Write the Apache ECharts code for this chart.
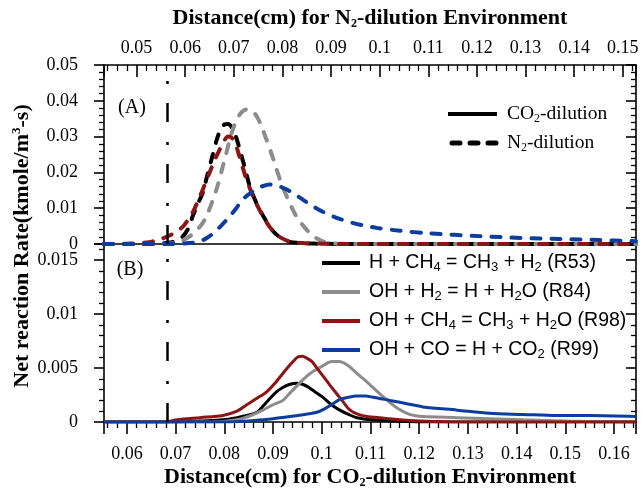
<!DOCTYPE html>
<html>
<head>
<meta charset="utf-8">
<script src="https://cdn.jsdelivr.net/npm/echarts@6/dist/echarts.min.js"></script>
<style>
  html, body { margin: 0; padding: 0; background: #fff; }
  #chart { width: 641px; height: 491px; }
</style>
</head>
<body>
<div id="chart"></div>
<script>
// ---- Net reaction rates vs. distance, (A) N2-dilution, (B) CO2-dilution ----

// Panel (A): N2-dilution, x = distance (cm) on the top axis, y = rate (kmole/m3-s)
const n2_R53 = [[0.0433,0],[0.050,0],[0.054,0.0001],[0.0568,0.0004],[0.059,0.0015],[0.0605,0.0040],[0.0615,0.0076],[0.0625,0.0110],[0.0636,0.0143],[0.0645,0.0190],[0.0654,0.0236],[0.0665,0.0292],[0.0673,0.0320],[0.0681,0.0334],[0.0688,0.0335],[0.0695,0.0327],[0.0702,0.0308],[0.0708,0.0284],[0.0715,0.0250],[0.0722,0.0216],[0.0733,0.0160],[0.0743,0.0125],[0.0753,0.0096],[0.0764,0.0070],[0.0774,0.0048],[0.0784,0.0031],[0.0794,0.0020],[0.0805,0.0012],[0.0815,0.0006],[0.0842,0.0002],[0.087,0.0001],[0.095,0],[0.1527,0]];
const n2_R84 = [[0.0433,0],[0.055,0],[0.0575,0.0002],[0.0588,0.0006],[0.061,0.0022],[0.0630,0.0048],[0.0643,0.0075],[0.0656,0.0120],[0.0666,0.0160],[0.0677,0.0215],[0.0685,0.0256],[0.0691,0.0290],[0.0698,0.0320],[0.0706,0.0348],[0.0716,0.0368],[0.0726,0.0376],[0.0737,0.0372],[0.0747,0.0357],[0.0757,0.0328],[0.0767,0.0292],[0.0778,0.0250],[0.0788,0.0208],[0.0798,0.0168],[0.0809,0.0132],[0.0819,0.0102],[0.0829,0.0076],[0.0842,0.0052],[0.0856,0.0031],[0.0870,0.0016],[0.0883,0.0007],[0.0900,0.0003],[0.0912,0.0001],[0.095,0],[0.1527,0]];
const n2_R98 = [[0.0433,0],[0.048,0.0001],[0.052,0.0004],[0.0541,0.0010],[0.057,0.0025],[0.0595,0.0048],[0.0605,0.0066],[0.0615,0.0087],[0.0630,0.0132],[0.0640,0.0165],[0.0650,0.0199],[0.0660,0.0233],[0.0671,0.0264],[0.0680,0.0288],[0.0688,0.0300],[0.0696,0.0296],[0.0703,0.0280],[0.0710,0.0252],[0.0718,0.0215],[0.0726,0.0180],[0.0733,0.0155],[0.0743,0.0122],[0.0753,0.0095],[0.0764,0.0068],[0.0774,0.0047],[0.0784,0.0031],[0.0794,0.0020],[0.0805,0.0012],[0.0815,0.0007],[0.0842,0.0003],[0.088,0.0001],[0.095,0],[0.1527,0]];
const n2_R99 = [[0.0433,0],[0.058,0],[0.0610,0.0003],[0.0630,0.0007],[0.0648,0.0020],[0.0665,0.0039],[0.0678,0.0057],[0.0691,0.0076],[0.0705,0.0100],[0.0718,0.0124],[0.0732,0.0140],[0.0747,0.0154],[0.0760,0.0162],[0.0774,0.0166],[0.0790,0.0163],[0.0809,0.0152],[0.0825,0.0139],[0.0842,0.0124],[0.0862,0.0106],[0.0883,0.0090],[0.0910,0.0074],[0.0944,0.0059],[0.0970,0.0051],[0.0994,0.0045],[0.1041,0.0037],[0.1100,0.0030],[0.1206,0.0022],[0.1290,0.0017],[0.1370,0.0014],[0.1450,0.0011],[0.1527,0.0008]];

// Panel (B): CO2-dilution, x = distance (cm) on the bottom axis
const co2_R53 = [[0.0553,0],[0.070,0],[0.075,0.0001],[0.0797,0.0002],[0.0826,0.0004],[0.0846,0.0006],[0.0867,0.0009],[0.0880,0.0015],[0.0894,0.0022],[0.0907,0.0028],[0.0920,0.0032],[0.0935,0.0035],[0.0949,0.0036],[0.0960,0.0035],[0.0970,0.0033],[0.0986,0.0028],[0.1002,0.0023],[0.1020,0.0016],[0.1037,0.0011],[0.1055,0.0007],[0.1072,0.0004],[0.1105,0.0002],[0.115,0.0001],[0.120,0],[0.1645,0]];
const co2_R84 = [[0.0553,0],[0.078,0],[0.0826,0.0002],[0.0855,0.0006],[0.0879,0.0011],[0.0900,0.0016],[0.0920,0.0020],[0.0935,0.0027],[0.0948,0.0033],[0.0961,0.0039],[0.0976,0.0045],[0.0990,0.0049],[0.1002,0.0052],[0.1013,0.0055],[0.1023,0.0056],[0.1034,0.0056],[0.1044,0.0055],[0.1058,0.0051],[0.1072,0.0045],[0.1088,0.0039],[0.1105,0.0032],[0.1122,0.0025],[0.1140,0.0018],[0.1158,0.0012],[0.1175,0.0008],[0.1190,0.0006],[0.1208,0.0005],[0.1278,0.0004],[0.1345,0.0003],[0.1413,0.0002],[0.150,0.0001],[0.158,0],[0.1645,0]];
const co2_R98 = [[0.0553,0],[0.068,0],[0.0703,0.0002],[0.075,0.0004],[0.0797,0.0006],[0.0826,0.0010],[0.0846,0.0016],[0.0867,0.0022],[0.0887,0.0028],[0.0904,0.0036],[0.0920,0.0045],[0.0931,0.0051],[0.0941,0.0056],[0.0950,0.0060],[0.0960,0.0061],[0.0970,0.0059],[0.0980,0.0056],[0.0990,0.0050],[0.1002,0.0043],[0.1017,0.0034],[0.1031,0.0026],[0.1045,0.0018],[0.1058,0.0011],[0.1075,0.0007],[0.1093,0.0005],[0.1140,0.0003],[0.120,0.0001],[0.130,0],[0.1645,0]];
const co2_R99 = [[0.0553,0],[0.080,0],[0.085,0.0001],[0.090,0.0003],[0.0935,0.0005],[0.0965,0.0007],[0.0990,0.0009],[0.1005,0.0012],[0.1020,0.0016],[0.1037,0.0021],[0.1055,0.0023],[0.1072,0.0024],[0.1090,0.0024],[0.1105,0.0023],[0.1140,0.0020],[0.1175,0.0017],[0.1208,0.0014],[0.1278,0.0011],[0.1345,0.0008],[0.1413,0.0007],[0.1483,0.0006],[0.1551,0.0006],[0.1645,0.0005]];

// Axis ranges
const n2Range  = [0.0433, 0.1527];   // top axis (cm)
const co2Range = [0.0553, 0.1645];   // bottom axis (cm)
const rateRangeA = [0, 0.05];
const rateRangeB = [0, 0.0165];
const tickStepX = 0.01, tickStepA = 0.01, tickStepB = 0.005;

// Reference position marked by the dash-dot line (cm)
const frontN2 = 0.0563;
const frontCO2 = 0.0683;

// Reactions
const reactionKeys = ['R53', 'R84', 'R98', 'R99'];
const reactionLabels = [
  '{n|H + CH}{s|4}{n| = CH}{s|3}{n| + H}{s|2}{n| (R53)}',
  '{n|OH + H}{s|2}{n| = H + H}{s|2}{n|O (R84)}',
  '{n|OH + CH}{s|4}{n| = CH}{s|3}{n| + H}{s|2}{n|O (R98)}',
  '{n|OH + CO = H + CO}{s|2}{n| (R99)}'
];
const reactionColors = ['#000000', '#8c8c8c', '#8b1414', '#0c3c9e'];
const n2Data  = [n2_R53, n2_R84, n2_R98, n2_R99];
const co2Data = [co2_R53, co2_R84, co2_R98, co2_R99];

const SERIF = "'Liberation Serif', 'Times New Roman', serif";
const SANS = "'Liberation Sans', Arial, sans-serif";

function onStep(v, step) {
  return Math.abs(v / step - Math.round(v / step)) < 1e-6;
}
function tickLabel(step, digits) {
  return function (v) {
    if (!onStep(v, step)) return '';
    return String(+v.toFixed(digits));
  };
}

const axisLineStyle = { color: '#000', width: 1.6 };
const labelFont = { fontFamily: SERIF, fontSize: 18, color: '#000' };

const nameRich = {
  b: { fontFamily: SERIF, fontSize: 22, fontWeight: 'bold', color: '#000', lineHeight: 24 },
  s: { fontFamily: SERIF, fontSize: 12, fontWeight: 'bold', color: '#000', lineHeight: 12, verticalAlign: 'bottom' }
};

function xAxisDef(grid, pos, range, withLabels, inside, name, nameGap) {
  return {
    type: 'value', gridIndex: grid, position: pos,
    min: range[0], max: range[1], splitNumber: 11,
    axisLine: { show: true, onZero: false, lineStyle: axisLineStyle },
    axisTick: { show: withLabels, inside: inside, length: 12, lineStyle: { color: '#000', width: 1.6 } },
    minorTick: { show: withLabels, splitNumber: 5, length: 6, lineStyle: { color: '#000', width: 1.3 } },
    axisLabel: Object.assign({ show: withLabels, margin: pos === 'top' ? 8 : 23,
      formatter: tickLabel(tickStepX, 2) }, labelFont),
    splitLine: { show: false },
    name: name || '', nameLocation: 'middle', nameGap: nameGap || 0,
    nameTextStyle: { rich: nameRich }
  };
}

function yAxisDef(grid, pos, range, step, withLabels) {
  return {
    type: 'value', gridIndex: grid, position: pos,
    min: range[0], max: range[1], interval: step,
    axisLine: { show: true, onZero: false, lineStyle: axisLineStyle },
    axisTick: { show: true, inside: pos === 'right', length: 10, lineStyle: { color: '#000', width: 1.6 } },
    minorTick: { show: true, splitNumber: 5, length: 5, lineStyle: { color: '#000', width: 1.3 } },
    axisLabel: Object.assign({ show: withLabels, margin: 26,
      formatter: tickLabel(step, 3) }, labelFont),
    splitLine: { show: false }
  };
}

function frontLine(value) {
  return {
    silent: true, symbol: ['none', 'none'], precision: 6, label: { show: false },
    lineStyle: { color: '#000', width: 2.5, type: [19, 19, 3, 20] },
    emphasis: { disabled: true },
    data: [{ xAxis: value }]
  };
}

const series = [];
reactionKeys.forEach(function (key, i) {
  series.push({
    name: key + ' N2', type: 'line', xAxisIndex: 0, yAxisIndex: 0,
    data: n2Data[i], showSymbol: false, symbol: 'none', smooth: 0.3,
    color: reactionColors[i],
    lineStyle: { color: reactionColors[i], width: 4, type: [9, 11], cap: 'round' },
    emphasis: { disabled: true },
    markLine: i === 0 ? frontLine(frontN2) : undefined
  });
});
reactionKeys.forEach(function (key, i) {
  series.push({
    name: key, type: 'line', xAxisIndex: 2, yAxisIndex: 2,
    data: co2Data[i], showSymbol: false, symbol: 'none', smooth: 0.3,
    color: reactionColors[i],
    itemStyle: { color: reactionColors[i] },
    lineStyle: { color: reactionColors[i], width: 3 },
    emphasis: { disabled: true },
    markLine: i === 0 ? frontLine(frontCO2) : undefined
  });
});

const chart = echarts.init(document.getElementById('chart'), null, { renderer: 'canvas' });
chart.setOption({
  animation: false,
  backgroundColor: '#fff',
  grid: [
    { left: 104, right: 5, top: 65, height: 179, outerBoundsMode: 'none', containLabel: false },
    { left: 104, right: 5, top: 244, height: 178, outerBoundsMode: 'none', containLabel: false }
  ],
  xAxis: [
    xAxisDef(0, 'top', n2Range, true, true,
      '{b|Distance(cm) for N}{s|2}{b|-dilution Environment}', 35),
    xAxisDef(0, 'bottom', n2Range, false, false),
    xAxisDef(1, 'bottom', co2Range, true, false,
      '{b|Distance(cm) for CO}{s|2}{b|-dilution Environment}', 43)
  ],
  yAxis: [
    yAxisDef(0, 'left', rateRangeA, tickStepA, true),
    yAxisDef(0, 'right', rateRangeA, tickStepA, false),
    yAxisDef(1, 'left', rateRangeB, tickStepB, true),
    yAxisDef(1, 'right', rateRangeB, tickStepB, false)
  ],
  legend: {
    data: reactionKeys,
    orient: 'vertical', left: 317, top: 248,
    itemWidth: 38, itemHeight: 4, itemGap: 8, icon: 'rect',
    selectedMode: false,
    formatter: function (name) { return reactionLabels[reactionKeys.indexOf(name)]; },
    textStyle: {
      color: '#000', padding: [0, 0, 0, 4],
      rich: {
        n: { fontFamily: SANS, fontSize: 19.5, color: '#000', lineHeight: 22 },
        s: { fontFamily: SANS, fontSize: 13, color: '#000', lineHeight: 12, verticalAlign: 'bottom' }
      }
    }
  },
  graphic: [
    { type: 'text', x: 132, y: 108, silent: true,
      style: { text: '(A)', font: '20px ' + SERIF, fill: '#000', align: 'center', verticalAlign: 'middle' } },
    { type: 'text', x: 130, y: 270, silent: true,
      style: { text: '(B)', font: '20px ' + SERIF, fill: '#000', align: 'center', verticalAlign: 'middle' } },
    // line-style key for panel (A)
    { type: 'line', silent: true, shape: { x1: 448, y1: 114, x2: 497, y2: 114 },
      style: { stroke: '#000', lineWidth: 4 } },
    { type: 'line', silent: true, shape: { x1: 452, y1: 143, x2: 497, y2: 143 },
      style: { stroke: '#000', lineWidth: 5, lineDash: [8, 10], lineCap: 'round' } },
    { type: 'text', x: 507, y: 114, silent: true,
      style: { text: '{n|CO}{s|2}{n|-dilution}', align: 'left', verticalAlign: 'middle',
        rich: {
          n: { fontFamily: SERIF, fontSize: 19.5, fill: '#000', lineHeight: 22 },
          s: { fontFamily: SERIF, fontSize: 12, fill: '#000', lineHeight: 12, verticalAlign: 'bottom' }
        } } },
    { type: 'text', x: 507, y: 143, silent: true,
      style: { text: '{n|N}{s|2}{n|-dilution}', align: 'left', verticalAlign: 'middle',
        rich: {
          n: { fontFamily: SERIF, fontSize: 19.5, fill: '#000', lineHeight: 22 },
          s: { fontFamily: SERIF, fontSize: 12, fill: '#000', lineHeight: 12, verticalAlign: 'bottom' }
        } } },
    // y-axis title spanning both panels
    { type: 'text', x: 22, y: 246, rotation: Math.PI / 2, silent: true,
      style: { text: '{b|Net reaction Rate(kmole/m}{p|3}{b|-s)}', align: 'center', verticalAlign: 'middle',
        rich: {
          b: { fontFamily: SERIF, fontSize: 22, fontWeight: 'bold', fill: '#000', lineHeight: 24 },
          p: { fontFamily: SERIF, fontSize: 13, fontWeight: 'bold', fill: '#000', lineHeight: 12, verticalAlign: 'top' }
        } } }
  ],
  series: series
});
</script>
</body>
</html>
